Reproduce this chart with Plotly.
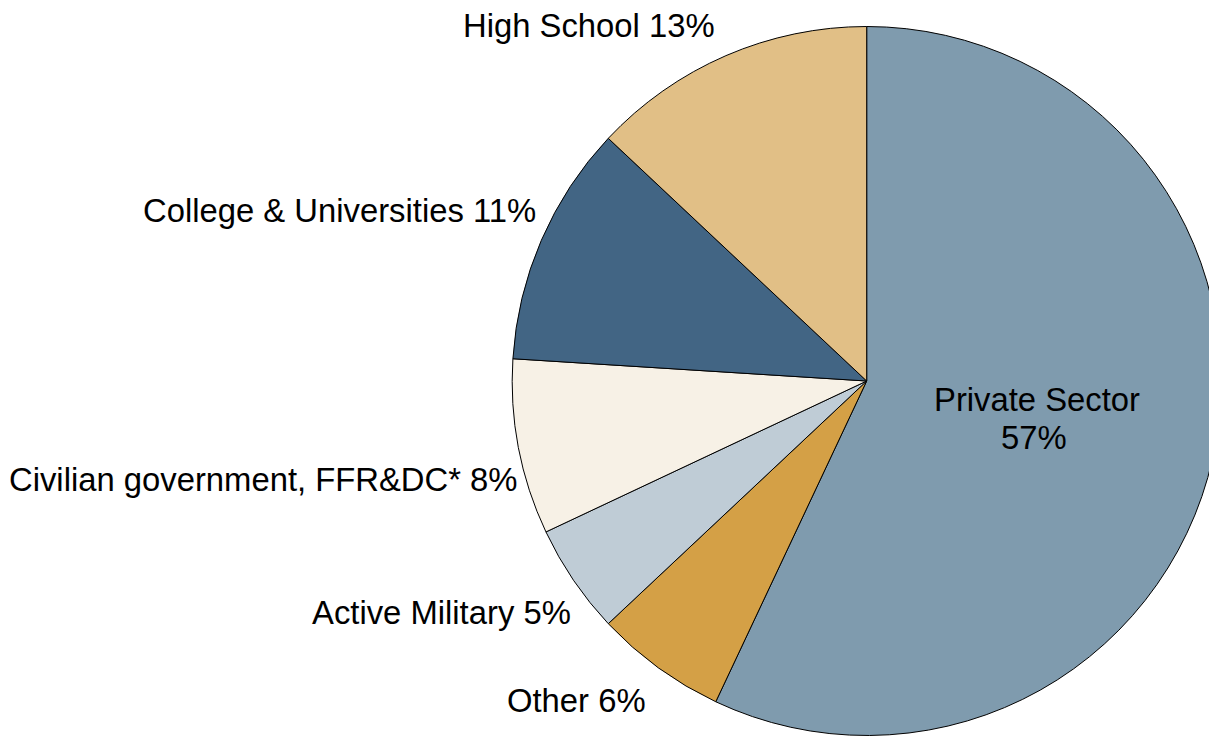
import plotly.graph_objects as go

# Data
labels = ["Private Sector", "Other", "Active Military",
          "Civilian government, FFR&DC*", "College & Universities", "High School"]
values = [57, 6, 5, 8, 11, 13]
colors = ["#7F9BAE", "#D4A046", "#BFCCD6", "#F7F1E6", "#426584", "#E1BF86"]

W, H = 1240, 740
cx, cy, r = 866.7, 381.0, 354.5

fig = go.Figure(go.Pie(
    labels=labels,
    values=values,
    sort=False,
    direction="clockwise",
    rotation=0,
    marker=dict(colors=colors, line=dict(color="black", width=1)),
    textinfo="none",
    hoverinfo="label+percent",
    showlegend=False,
    domain=dict(x=[(cx - r) / W, (cx + r) / W],
                y=[(H - (cy + r)) / H, (H - (cy - r)) / H]),
))

FONT = dict(family="Liberation Sans, Arial, sans-serif", size=32.8, color="black")

# label anchor points in pixels: (x, y_center, xanchor)
label_pos = {
    "Other": (648, 700, "right"),
    "Active Military": (573, 612, "right"),
    "Civilian government, FFR&DC*": (520, 479, "right"),
    "College & Universities": (538, 211, "right"),
    "High School": (717, 26, "right"),
}

annotations = []
for lab, val in zip(labels, values):
    if lab in label_pos:
        px, py, xa = label_pos[lab]
        annotations.append(dict(
            x=px / W, y=1 - py / H, xref="paper", yref="paper",
            text=f"{lab} {val}%", showarrow=False,
            xanchor=xa, yanchor="middle", font=FONT))

# Private sector inside label (two lines)
annotations.append(dict(x=1036.5 / W, y=1 - 399 / H, xref="paper", yref="paper",
                        text=labels[0], showarrow=False, xanchor="center",
                        yanchor="middle", font=FONT))
annotations.append(dict(x=1034 / W, y=1 - 437 / H, xref="paper", yref="paper",
                        text=f"{values[0]}%", showarrow=False, xanchor="center",
                        yanchor="middle", font=FONT))

fig.update_layout(
    width=W, height=H,
    margin=dict(l=0, r=0, t=0, b=0),
    paper_bgcolor="white",
    plot_bgcolor="white",
    annotations=annotations,
)

fig.write_html("out.html",
               config={"displayModeBar": False},
               post_script="document.body.style.margin='0';document.body.style.overflow='hidden';document.documentElement.style.overflow='hidden';")
